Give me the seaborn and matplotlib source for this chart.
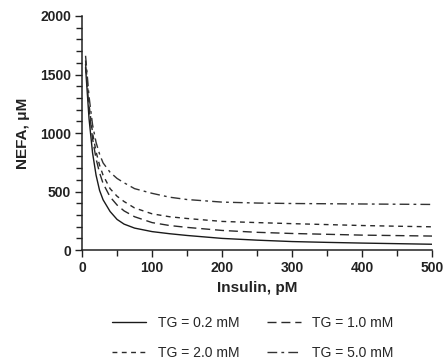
import pandas as pd
import matplotlib
matplotlib.use("Agg")
import matplotlib.pyplot as plt
import seaborn as sns
from matplotlib.ticker import MultipleLocator

# valores (NEFA em uM x insulina em pM)
insulin = [5, 10, 15, 20, 25, 30, 40, 50, 60, 75, 100, 125, 150,
           200, 250, 300, 350, 400, 450, 500]
nefa_tg02 = [1560, 1120, 830, 640, 510, 430, 330, 262, 222, 188, 158, 140, 125,
             100, 85, 73, 66, 60, 55, 50]
nefa_tg10 = [1590, 1200, 950, 780, 660, 570, 455, 385, 335, 285, 235, 210, 194,
             168, 152, 142, 135, 128, 124, 120]
nefa_tg20 = [1620, 1240, 1000, 840, 725, 640, 525, 460, 415, 360, 310, 285, 270,
             245, 235, 226, 218, 210, 204, 199]
nefa_tg50 = [1660, 1310, 1070, 920, 820, 745, 665, 612, 575, 525, 485, 452, 432,
             410, 402, 398, 396, 394, 392, 390]

labels = ["TG = 0.2 mM", "TG = 1.0 mM", "TG = 2.0 mM", "TG = 5.0 mM"]
series = [nefa_tg02, nefa_tg10, nefa_tg20, nefa_tg50]

df = pd.concat(
    [pd.DataFrame({"Insulin": insulin, "NEFA": v, "TG": lab}) for lab, v in zip(labels, series)],
    ignore_index=True,
)

sns.set_style("ticks")
plt.rcParams["font.family"] = ["Liberation Sans", "DejaVu Sans"]

fig = plt.figure(figsize=(4.46, 3.63), dpi=100)
ax = fig.add_axes([0.184, 0.311, 0.785, 0.645])

estilos = {
    labels[0]: "",
    labels[1]: (6.5, 3.5),
    labels[2]: (3.5, 3.2),
    labels[3]: (7, 3, 2, 3),
}
cores = {labels[0]: "#1a1a1a", labels[1]: "#2a2a2a", labels[2]: "#2a2a2a", labels[3]: "#333333"}

sns.lineplot(data=df, x="Insulin", y="NEFA", hue="TG", style="TG",
             palette=cores, dashes=estilos, linewidth=1.0, ax=ax, legend=True)

ax.set_xlim(0, 500)
ax.set_ylim(0, 2000)
ax.xaxis.set_major_locator(MultipleLocator(100))
ax.xaxis.set_minor_locator(MultipleLocator(50))
ax.yaxis.set_major_locator(MultipleLocator(500))
ax.yaxis.set_minor_locator(MultipleLocator(100))
ax.tick_params(which="major", length=5, width=1.0, labelsize=10, pad=3, color="#222222")
ax.tick_params(which="minor", length=4, width=1.0, color="#222222")
for lab in ax.get_xticklabels() + ax.get_yticklabels():
    lab.set_fontweight("bold")
    lab.set_color("#222222")

ax.set_xlabel("Insulin, pM", fontsize=11, fontweight="bold", color="#222222", labelpad=4)
ax.set_ylabel("NEFA, \u03bcM", fontsize=11, fontweight="bold", color="#222222", labelpad=7)
sns.despine(ax=ax)
for s in ["left", "bottom"]:
    ax.spines[s].set_linewidth(1.1)
    ax.spines[s].set_color("#222222")

# ordem da legenda: linha 1 -> 0.2 e 1.0, linha 2 -> 2.0 e 5.0
handles, leg_labels = ax.get_legend_handles_labels()
ax.get_legend().remove()
ordem = [0, 2, 1, 3]
fig.legend([handles[i] for i in ordem], [leg_labels[i] for i in ordem],
           loc="center", bbox_to_anchor=(0.567, 0.069),
           ncol=2, frameon=False, fontsize=10, handlelength=2.45,
           handletextpad=0.8, columnspacing=2.0, labelspacing=1.15)

plt.savefig("out.png", dpi=100)
